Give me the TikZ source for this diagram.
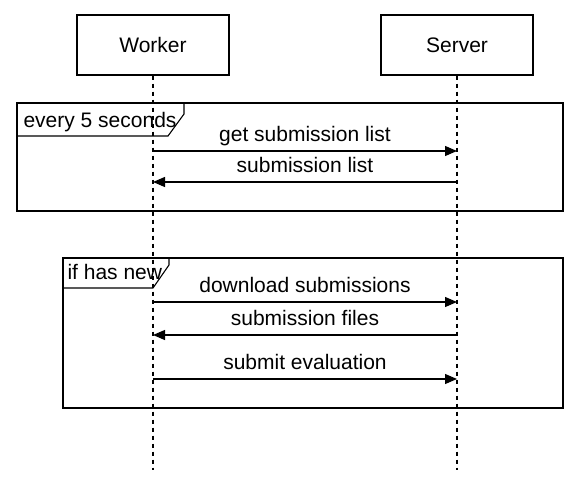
\documentclass[tikz,border=0pt]{standalone}
\usepackage{fontspec}
\setmainfont{Liberation Sans}
\usetikzlibrary{arrows.meta}

\begin{document}
\begin{tikzpicture}[x=1pt, y=-1pt, line width=1.1pt,
    font=\fontsize{21}{25}\selectfont,
    actor/.style={draw, minimum width=152pt, minimum height=60pt, inner sep=0pt},
    lifeline/.style={dash pattern=on 4pt off 4pt},
    msg/.style={-{Triangle[length=12pt,width=10pt]}},
    msgtext/.style={anchor=base, inner sep=0pt, yshift=10pt},
    frametext/.style={anchor=base west, inner sep=0pt}]
    \useasboundingbox (0,0) rectangle (576,479);

    % Participants
    \node[actor] (worker) at (153,45) {Worker};
    \node[actor] (server) at (457,45) {Server};

    \coordinate (wend) at (153,470);
    \coordinate (send) at (457,470);
    \draw[lifeline] (worker.south) -- (wend);
    \draw[lifeline] (server.south) -- (send);

    % Loop frame
    \draw (17,103) rectangle (563,211);
    \draw (17,136) -- (168,136) -- (184,114) -- (184,103);
    \node[frametext] (loop) at (23,127) {every 5 seconds};

    % Option frame
    \draw (63,258) rectangle (563,408);
    \draw (63,288) -- (153,288) -- (169,265) -- (169,258);
    \node[frametext] (opt) at (67,279) {if has new};

    % Messages
    \coordinate (w1) at (153,151);
    \coordinate (s1) at (457,151);
    \coordinate (w2) at (153,182);
    \coordinate (s2) at (457,182);
    \coordinate (w3) at (153,302);
    \coordinate (s3) at (457,302);
    \coordinate (w4) at (153,335);
    \coordinate (s4) at (457,335);
    \coordinate (w5) at (153,379);
    \coordinate (s5) at (457,379);

    \draw[msg] (w1) -- node[msgtext] {get submission list} (s1);
    \draw[msg] (s2) -- node[msgtext] {submission list} (w2);
    \draw[msg] (w3) -- node[msgtext] {download submissions} (s3);
    \draw[msg] (s4) -- node[msgtext] {submission files} (w4);
    \draw[msg] (w5) -- node[msgtext] {submit evaluation} (s5);
\end{tikzpicture}
\end{document}
